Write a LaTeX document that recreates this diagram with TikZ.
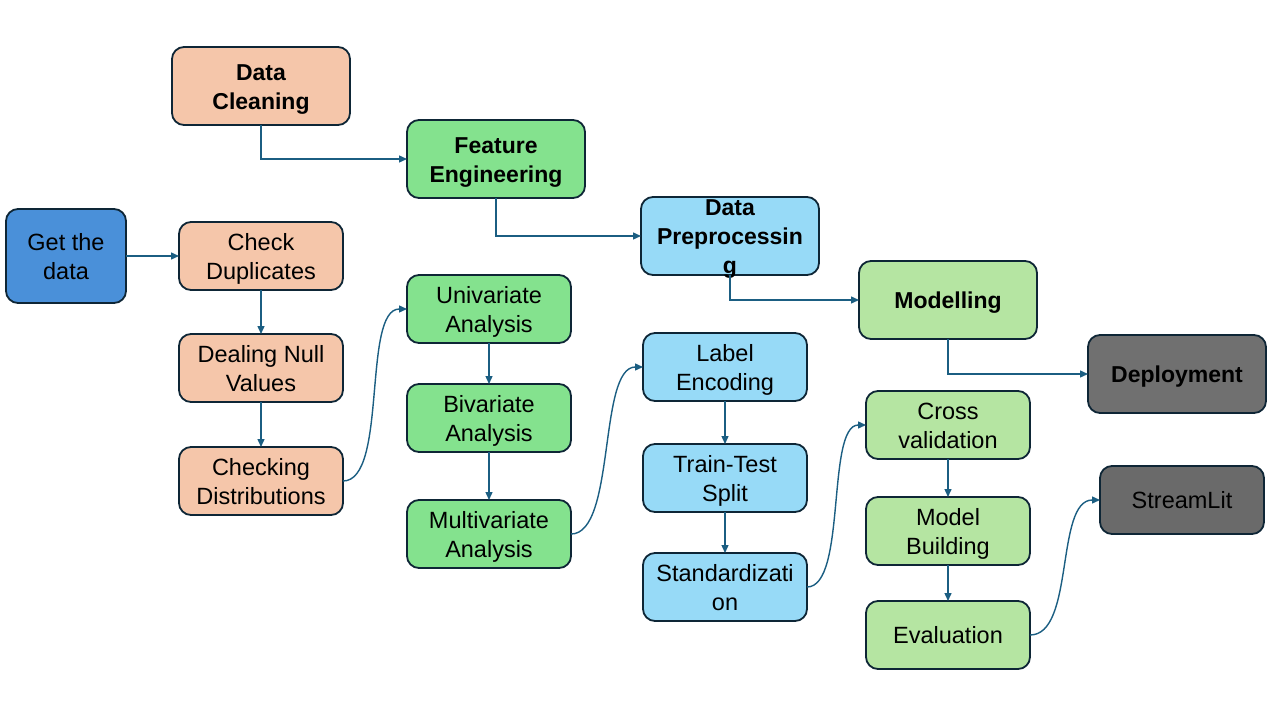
\documentclass[tikz,border=0pt]{standalone}
\usepackage{fontspec}
\setmainfont{Liberation Sans}
\usetikzlibrary{arrows.meta}
\definecolor{cblue}{HTML}{4A90D9}
\definecolor{cpeach}{HTML}{F5C6AA}
\definecolor{cgreen}{HTML}{84E28E}
\definecolor{clblue}{HTML}{97DAF7}
\definecolor{clgreen}{HTML}{B5E5A2}
\definecolor{cgray}{HTML}{707070}
\definecolor{cborder}{HTML}{0E2636}
\definecolor{carrow}{HTML}{1B5E82}
\newcommand\lnstrut{\rule[-5pt]{0pt}{27pt}}
\newcommand\thinstrut{\rule[-1.5pt]{0pt}{20pt}}
\tikzset{
  box/.style={draw=cborder, line width=1.8pt, rounded corners=12pt, align=center,
    inner sep=0pt, outer sep=0pt, text=black, font=\fontsize{23.5}{29}\selectfont},
  bbox/.style={box, font=\fontsize{23}{29}\selectfont\bfseries},
  small/.style={minimum width=164pt, minimum height=68pt},
  big/.style={minimum width=178pt, minimum height=78pt},
  conn/.style={draw=carrow, line width=1.4pt, -{Triangle[length=8pt,width=7pt]}},
}
\begin{document}
\begin{tikzpicture}[x=1pt,y=-1pt]
\useasboundingbox[fill=white] (0,0) rectangle (1280,720);
% main row
\node[box, fill=cblue, minimum width=120pt, minimum height=94pt] (get) at (66,256) {\lnstrut Get the\\\lnstrut data};
\node[bbox, big, fill=cpeach] (clean) at (261,86) {\lnstrut Data\\\lnstrut Cleaning};
\node[bbox, big, fill=cgreen] (feat) at (496,159) {\lnstrut Feature\\\lnstrut Engineering};
\node[bbox, big, fill=clblue] (prep) at (730,236) {\thinstrut Data\\\thinstrut Preprocessin\\\thinstrut\smash{g}};
\node[bbox, big, fill=clgreen] (model) at (948,300) {\lnstrut Modelling};
\node[bbox, big, fill=cgray] (deploy) at (1177,374) {\lnstrut Deployment};
% cleaning column
\node[box, small, fill=cpeach] (dup) at (261,256) {\lnstrut Check\\\lnstrut Duplicates};
\node[box, small, fill=cpeach] (null) at (261,368) {\lnstrut Dealing Null\\\lnstrut Values};
\node[box, small, fill=cpeach] (dist) at (261,481) {\lnstrut Checking\\\lnstrut Distributions};
% feature column
\node[box, small, fill=cgreen] (uni) at (489,309) {\lnstrut Univariate\\\lnstrut Analysis};
\node[box, small, fill=cgreen] (bi) at (489,418) {\lnstrut Bivariate\\\lnstrut Analysis};
\node[box, small, fill=cgreen] (multi) at (489,534) {\lnstrut Multivariate\\\lnstrut Analysis};
% preprocessing column
\node[box, small, fill=clblue] (label) at (725,367) {\lnstrut Label\\\lnstrut Encoding};
\node[box, small, fill=clblue] (split) at (725,478) {\lnstrut Train-Test\\\lnstrut Split};
\node[box, small, fill=clblue] (std) at (725,587) {\lnstrut Standardizati\\\lnstrut on};
% modelling column
\node[box, small, fill=clgreen] (cv) at (948,425) {\lnstrut Cross\\\lnstrut validation};
\node[box, small, fill=clgreen] (build) at (948,531) {\lnstrut Model\\\lnstrut Building};
\node[box, small, fill=clgreen] (eval) at (948,635) {\lnstrut Evaluation};
% deployment
\node[box, small, fill=cgray!95!black] (stream) at (1182,500) {\lnstrut StreamLit};
% connectors
\draw[conn] (get.east) -- (dup.west);
\draw[conn] (dup.south) -- (null.north);
\draw[conn] (null.south) -- (dist.north);
\draw[conn] (dist.east) .. controls +(45,0) and +(-45,0) .. (uni.west);
\draw[conn] (uni.south) -- (bi.north);
\draw[conn] (bi.south) -- (multi.north);
\draw[conn] (multi.east) .. controls +(45,0) and +(-45,0) .. (label.west);
\draw[conn] (label.south) -- (split.north);
\draw[conn] (split.south) -- (std.north);
\draw[conn] (std.east) .. controls +(40,0) and +(-40,0) .. (cv.west);
\draw[conn] (cv.south) -- (build.north);
\draw[conn] (build.south) -- (eval.north);
\draw[conn] (eval.east) .. controls +(45,0) and +(-45,0) .. (stream.west);
\draw[conn] (clean.south) |- (feat.west);
\draw[conn] (feat.south) |- (prep.west);
\draw[conn] (prep.south) |- (model.west);
\draw[conn] (model.south) |- (deploy.west);
\end{tikzpicture}
\end{document}
